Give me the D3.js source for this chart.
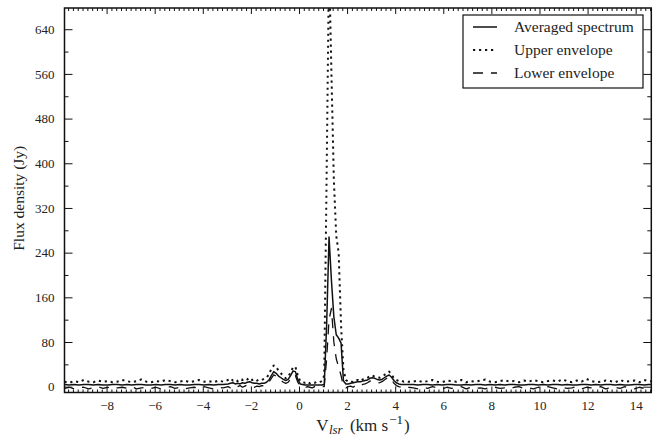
<!DOCTYPE html>
<html><head><meta charset="utf-8">
<script src="https://cdn.jsdelivr.net/npm/d3@7"></script>
</head>
<body style="margin:0;background:#fff">
<svg id="c" width="660" height="439"></svg>
<script>
// Channel velocity grids (km/s): coarse outside the emission, fine across it
const velLeft  = d3.range(34).map(i => +(-9.75 + 0.2*i).toFixed(2));
const velMid   = d3.range(76).map(i => +(-2.95 + 0.1*i).toFixed(2));
const velRight = d3.range(51).map(i => +(4.75 + 0.2*i).toFixed(2));

// Averaged spectrum (Jy)
const avgLeft  = [4,3,4,3,4,4,3,4,3,3,4,4,3,4,3,4,4,3,3,4,3,4,4,3,4,3,3,4,4,3,4,3,4,4];
const avgMid   = [5,6,7,5,6,5,7,6,8,9,7,6,6,5,6,6,8,12,20,27,24,19,16,13,11,13,20,28,27,13,
                  5,4,3,3,3,3,3,3,3,3,4,110,268,190,125,93,87,78,10,5,
                  5,6,7,8,9,9,10,11,12,15,16,15,13,12,13,16,19,21,17,11,7,5,4,4,4,4];
const avgRight = [4,3,4,4,3,4,3,4,4,3,3,4,3,4,4,3,4,3,4,3,4,4,3,3,4,4,3,4,3,4,4,3,4,3,3,4,4,3,4,3,4,4,3,4,3,3,4,4,3,4,4];

// Upper envelope (Jy)
const upLeft  = [9,7,10,8,12,9,8,11,9,10,8,9,12,10,8,10,13,9,8,10,9,12,10,8,9,11,8,10,12,9,10,8,11,9];
const upMid   = [12,15,11,13,10,14,12,15,13,16,12,14,11,13,12,14,16,22,32,38,36,28,24,19,15,17,26,34,36,20,
                 10,8,7,9,6,8,7,9,8,10,20,380,760,560,370,270,240,110,30,12,
                 9,10,8,11,12,10,13,14,16,19,20,18,17,16,18,21,24,27,22,15,12,10,11,9,10,9];
const upRight = [9,11,8,10,12,9,8,11,10,9,12,8,10,9,11,13,9,8,10,12,9,10,8,11,9,12,10,8,10,11,9,13,10,8,11,9,14,10,8,9,11,10,8,12,9,10,11,8,12,10,9];

// Lower envelope (Jy)
const loLeft  = [-3,-1,-4,-2,-1,-4,-2,0,-3,-1,-4,-2,-1,-3,0,-4,-2,-1,-3,-1,-4,-2,0,-3,-1,-4,-2,-1,-3,0,-2,-4,-1,-2];
const loMid   = [0,-2,1,-1,0,2,-1,1,3,2,0,-1,1,0,2,1,3,8,15,21,19,14,11,8,6,8,14,21,20,8,
                 1,-1,-2,0,-1,-2,0,-1,-2,0,0,50,120,140,80,50,35,20,0,-2,
                 0,1,-1,2,3,1,4,5,7,10,11,10,8,7,9,12,15,17,13,6,2,0,-1,-2,0,-1];
const loRight = [-2,-4,-1,-3,0,-2,-4,-1,-3,-2,0,-4,-1,-3,-2,-4,0,-1,-3,-2,-4,-1,0,-3,-2,-4,-1,-3,0,-2,-4,-1,-3,-2,0,-4,-1,-2,-3,0,-4,-2,-1,-3,0,-2,-4,-1,-3,-2,-1];

const xMajor = [-8,-6,-4,-2,0,2,4,6,8,10,12,14];
const yMajor = [0,80,160,240,320,400,480,560,640];
const legendLabels = ["Averaged spectrum","Upper envelope","Lower envelope"];

const FONT = "Liberation Serif";
const INK = "#111";

const vel = velLeft.concat(velMid, velRight);
const zip = vals => vel.map((v,i)=>({v, f: vals[i]}));
const series = [
  {name:"upper", data: zip(upLeft.concat(upMid, upRight)), dash:"2.2,3.8", w:2},
  {name:"lower", data: zip(loLeft.concat(loMid, loRight)), dash:"10,8", w:1.3},
  {name:"avg",   data: zip(avgLeft.concat(avgMid, avgRight)), dash:null, w:1.5}
];

const L=64.5, R=651.3, T=8, B=392.5;
const svg = d3.select("#c");
const x = d3.scaleLinear().domain([-9.75,14.65]).range([L,R]);
const y = d3.scaleLinear().domain([-10.4,678]).range([B,T]);

svg.append("defs").append("clipPath").attr("id","clip")
  .append("rect").attr("x",L).attr("y",T).attr("width",R-L).attr("height",B-T);

const line = d3.line().x(d=>x(d.v)).y(d=>y(d.f));
const g = svg.append("g").attr("clip-path","url(#clip)");
series.forEach(s=>{
  g.append("path").datum(s.data).attr("d",line)
   .attr("fill","none").attr("stroke",INK).attr("stroke-width",s.w)
   .attr("stroke-dasharray",s.dash).attr("stroke-linejoin","round");
});

// axes
const xMinor = d3.range(-48,74).map(i=>+(i*0.2).toFixed(1)).filter(v=>xMajor.indexOf(v)<0);
const yMinor = d3.range(0,8).map(i=>40+80*i);

function styleAxis(sel){
  sel.attr("font-family",FONT).attr("font-size",13);
  sel.select(".domain").remove();
  sel.selectAll("line").attr("stroke",INK).attr("stroke-width",1);
  sel.selectAll("text").attr("font-family",FONT).attr("font-size",13).attr("fill","#222");
}
svg.append("g").attr("transform",`translate(0,${B})`)
  .call(d3.axisBottom(x).tickValues(xMajor).tickSize(-6).tickPadding(8).tickFormat(d=>d<0?"\u2212"+(-d):d))
  .call(styleAxis);
svg.append("g").attr("transform",`translate(0,${B})`)
  .call(d3.axisBottom(x).tickValues(xMinor).tickSize(-3).tickFormat(""))
  .call(styleAxis);
svg.append("g").attr("transform",`translate(0,${T})`)
  .call(d3.axisTop(x).tickValues(xMajor).tickSize(-6).tickFormat(""))
  .call(styleAxis);
svg.append("g").attr("transform",`translate(0,${T})`)
  .call(d3.axisTop(x).tickValues(xMinor).tickSize(-3).tickFormat(""))
  .call(styleAxis);
svg.append("g").attr("transform",`translate(${L},0)`)
  .call(d3.axisLeft(y).tickValues(yMajor).tickSize(-8).tickPadding(10))
  .call(styleAxis);
svg.append("g").attr("transform",`translate(${L},0)`)
  .call(d3.axisLeft(y).tickValues(yMinor).tickSize(-4).tickFormat(""))
  .call(styleAxis);
svg.append("g").attr("transform",`translate(${R},0)`)
  .call(d3.axisRight(y).tickValues(yMajor).tickSize(-8).tickFormat(""))
  .call(styleAxis);
svg.append("g").attr("transform",`translate(${R},0)`)
  .call(d3.axisRight(y).tickValues(yMinor).tickSize(-4).tickFormat(""))
  .call(styleAxis);

svg.append("rect").attr("x",L).attr("y",T).attr("width",R-L).attr("height",B-T)
  .attr("fill","none").attr("stroke",INK).attr("stroke-width",1.5);

// titles
svg.append("text").attr("transform",`translate(24,${(T+B)/2 - 2}) rotate(-90)`)
  .attr("font-family",FONT).attr("fill","#222")
  .attr("text-anchor","middle").attr("font-size",15.5).text("Flux density (Jy)");
const xt = svg.append("text").attr("x",(L+R)/2 + 5).attr("y",431).attr("text-anchor","middle")
  .attr("font-family",FONT).attr("fill","#222").attr("font-size",17);
xt.append("tspan").text("V");
xt.append("tspan").attr("font-size",13).attr("font-style","italic").attr("dx",0.5).attr("dy",3).text("lsr");
xt.append("tspan").attr("dy",-3).attr("dx",3).text(" (km s");
xt.append("tspan").attr("font-size",13).attr("dy",-7).attr("dx",1).text("\u22121");
xt.append("tspan").attr("dy",7).attr("dx",1).text(")");

// legend
const lg = svg.append("g");
lg.append("rect").attr("x",463).attr("y",15).attr("width",180).attr("height",73)
  .attr("fill","#fff").attr("stroke",INK).attr("stroke-width",1.2);
const lgStyles = [{dash:null,w:1.5},{dash:"2.2,3.8",w:2},{dash:"10,8",w:1.3}];
legendLabels.forEach((t,i)=>{
  const yy = 32 + i*23;
  lg.append("line").attr("x1",473).attr("x2",497).attr("y1",yy-5).attr("y2",yy-5)
    .attr("stroke",INK).attr("stroke-width",lgStyles[i].w).attr("stroke-dasharray",lgStyles[i].dash);
  lg.append("text").attr("x",514).attr("y",yy).attr("font-family",FONT).attr("fill","#222")
    .attr("font-size",15.5).text(t);
});
</script></body></html>
